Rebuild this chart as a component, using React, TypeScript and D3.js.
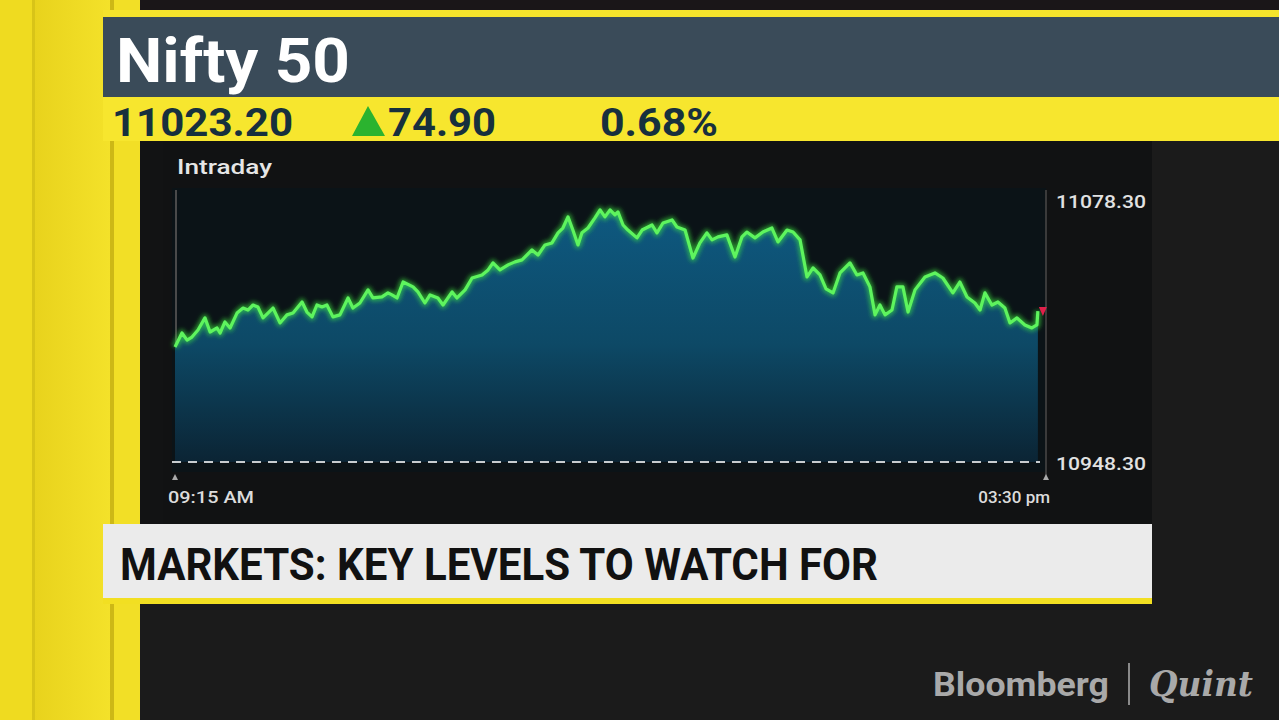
import React from "react";
import * as d3 from "d3";

// Intraday Nifty 50 (minutes after 09:15 open, index level)
const minutes = [0, 3.0, 5.2, 7.3, 9.9, 12.9, 15.1, 18.1, 19.4, 21.5, 23.7, 26.7, 29.3, 31.4, 33.6, 35.7, 37.9, 40.0, 42.2, 45.2, 48.2, 50.8, 54.7, 56.8, 59.0, 61.1, 63.3, 65.4, 68.0, 71.0, 74.5, 76.6, 79.6, 83.1, 85.2, 89.1, 91.7, 93.4, 95.6, 98.2, 102.5, 104.6, 107.6, 109.8, 113.2, 115.4, 119.3, 121.4, 124.9, 127.9, 132.2, 134.8, 136.9, 139.9, 143.4, 146.4, 149.4, 153.7, 156.3, 159.3, 162.3, 164.9, 167.0, 169.2, 171.3, 173.5, 175.2, 177.8, 180.8, 183.0, 185.1, 187.3, 189.4, 190.7, 192.9, 195.0, 198.9, 201.1, 205.4, 207.5, 210.1, 214.0, 216.1, 219.6, 223.0, 226.0, 229.0, 231.2, 233.8, 237.6, 241.1, 244.1, 246.2, 249.7, 253.1, 257.0, 259.6, 263.5, 266.1, 269.1, 272.1, 274.7, 277.7, 280.3, 283.3, 286.3, 290.6, 293.6, 296.2, 299.2, 301.4, 303.5, 305.7, 308.7, 310.8, 313.4, 315.6, 318.6, 322.9, 327.2, 330.6, 334.9, 337.9, 341.0, 344.4, 346.6, 348.7, 351.7, 354.3, 357.3, 359.5, 362.5, 365.9, 368.9, 371.1, 371.5];
const values = [11005.4, 11012.3, 11008.8, 11010.3, 11013.8, 11019.8, 11012.8, 11014.8, 11012.3, 11017.8, 11014.8, 11022.2, 11024.7, 11023.7, 11026.2, 11025.2, 11019.8, 11022.2, 11024.7, 11017.3, 11021.3, 11022.2, 11027.7, 11022.7, 11020.3, 11026.2, 11025.2, 11026.2, 11020.3, 11021.3, 11029.7, 11024.7, 11027.2, 11033.7, 11029.7, 11030.2, 11032.2, 11031.2, 11029.7, 11037.6, 11035.2, 11032.7, 11027.2, 11031.2, 11029.7, 11026.2, 11032.7, 11029.7, 11033.7, 11039.6, 11041.1, 11043.6, 11047.1, 11043.6, 11046.1, 11047.6, 11048.6, 11053.5, 11051.0, 11056.0, 11057.0, 11062.0, 11064.4, 11069.9, 11063.4, 11056.0, 11062.0, 11064.4, 11069.4, 11073.4, 11069.9, 11073.4, 11070.9, 11072.4, 11065.9, 11063.4, 11059.5, 11063.4, 11065.9, 11062.0, 11066.9, 11068.4, 11064.9, 11063.4, 11049.5, 11057.0, 11062.0, 11058.5, 11060.0, 11061.0, 11050.0, 11060.0, 11062.4, 11059.5, 11062.4, 11064.4, 11057.5, 11063.4, 11062.4, 11058.5, 11040.1, 11044.6, 11041.1, 11034.2, 11032.2, 11042.1, 11047.1, 11041.1, 11042.1, 11035.2, 11021.3, 11026.2, 11021.3, 11023.7, 11035.2, 11035.2, 11022.7, 11033.7, 11040.1, 11042.1, 11039.6, 11032.2, 11037.6, 11030.2, 11027.2, 11023.7, 11032.2, 11026.2, 11027.7, 11024.7, 11017.3, 11019.8, 11016.3, 11014.8, 11016.3, 11023.2];

const yBounds = [10948.3, 11078.3];
const yTickLabels = ["10948.30", "11078.30"];
const xBounds = [0, 375];
const xTickLabels = ["09:15 AM", "03:30 pm"];

const title = "Nifty 50";
const lastPrice = "11023.20";
const change = "74.90";
const changePct = "0.68%";
const chartLabel = "Intraday";
const banner = "MARKETS: KEY LEVELS TO WATCH FOR";

const FONT = "Roboto, 'Noto Sans', sans-serif";

export default function App() {
  const x = d3.scaleLinear().domain(xBounds).range([175, 1046]);
  const y = d3.scaleLinear().domain(yBounds).range([462, 200]);
  const pts = minutes.map((m, i) => [m, values[i]] as [number, number]);
  const line = d3.line<[number, number]>().x(d => x(d[0])).y(d => y(d[1]));
  const area = d3.area<[number, number]>().x(d => x(d[0])).y0(y(yBounds[0])).y1(d => y(d[1]));
  const lastX = x(minutes[minutes.length - 1]);
  const lastY = y(values[values.length - 1]);

  return (
    <svg width={1279} height={720} style={{ position: "absolute", left: 0, top: 0, display: "block" }} fontFamily={FONT}>
      <defs>
        <linearGradient id="fillG" gradientUnits="userSpaceOnUse" x1="0" y1="200" x2="0" y2="462">
          <stop offset="0" stopColor="#0e5a82" />
          <stop offset="0.55" stopColor="#0d4966" />
          <stop offset="1" stopColor="#0b2434" />
        </linearGradient>
        <linearGradient id="leftY" x1="0" x2="1" y1="0" y2="0">
          <stop offset="0" stopColor="#e8d21c" />
          <stop offset="1" stopColor="#f4e22a" />
        </linearGradient>
        <filter id="glow" x="-5%" y="-20%" width="110%" height="140%">
          <feGaussianBlur stdDeviation="2.2" />
        </filter>
      </defs>
      {/* background */}
      <rect x={0} y={0} width={1279} height={720} fill="#1b1b1b" />
      <rect x={140} y={0} width={1139} height={10} fill="#1a1618" />
      {/* left yellow panels */}
      <rect x={0} y={0} width={32} height={720} fill="#efdb20" />
      <rect x={32} y={0} width={80} height={720} fill="url(#leftY)" />
      <rect x={32} y={0} width={3} height={720} fill="#d8c418" />
      <rect x={110} y={0} width={4} height={720} fill="#cdb816" />
      <rect x={114} y={0} width={26} height={720} fill="#f2df26" />
      {/* header */}
      <rect x={103} y={10} width={1176} height={7} fill="#f5e42c" />
      <rect x={103} y={17} width={1176} height={80} fill="#3a4b59" />
      <rect x={103} y={97} width={1176} height={44} fill="#f7e62e" />
      <text x={116} y={82} fill="#ffffff" fontWeight={700} fontSize={62} textLength={234} lengthAdjust="spacingAndGlyphs">{title}</text>
      <text x={112} y={136} fill="#17303d" fontWeight={700} fontSize={38} textLength={181} lengthAdjust="spacingAndGlyphs">{lastPrice}</text>
      <path d="M352,136 L368,106 L385,136 Z" fill="#2bb32f" />
      <text x={388} y={136} fill="#17303d" fontWeight={700} fontSize={38} textLength={108} lengthAdjust="spacingAndGlyphs">{change}</text>
      <text x={600} y={136} fill="#17303d" fontWeight={700} fontSize={38} textLength={118} lengthAdjust="spacingAndGlyphs">{changePct}</text>
      {/* chart panel */}
      <rect x={140} y={141} width={1012} height={383} fill="#121314" />
      <rect x={163} y={141} width={989} height={383} fill="#111213" />
      <rect x={172} y={188} width={874} height={284} fill="#0b1317" />
      <text x={177} y={174} fill="#e6e6e6" fontWeight={500} fontSize={21} textLength={95} lengthAdjust="spacingAndGlyphs">{chartLabel}</text>
      <line x1={176} x2={176} y1={190} y2={462} stroke="#4a4a4a" strokeWidth={2} />
      <line x1={1046} x2={1046} y1={190} y2={476} stroke="#3a3a3a" strokeWidth={2} />
      <path d={area(pts) || ""} fill="url(#fillG)" />
      <path d={line(pts) || ""} fill="none" stroke="#3ff03f" strokeWidth={7} strokeOpacity={0.55} filter="url(#glow)" strokeLinejoin="round" />
      <path d={line(pts) || ""} fill="none" stroke="#5ef45e" strokeWidth={3.2} strokeLinejoin="round" />
      <line x1={172} x2={1040} y1={y(yBounds[0])} y2={y(yBounds[0])} stroke="#c8cccf" strokeWidth={2} strokeDasharray="9,7" />
      <path d={`M${lastX + 1},${lastY - 4} L${lastX + 9},${lastY - 4} L${lastX + 5},${lastY + 5} Z`} fill="#e0204a" />
      <path d={`M${x(xBounds[0]) - 3},${480} L${x(xBounds[0]) + 3},${480} L${x(xBounds[0])},${474} Z`} fill="#aaaaaa" />
      <path d={`M${x(xBounds[1]) - 3},${480} L${x(xBounds[1]) + 3},${480} L${x(xBounds[1])},${474} Z`} fill="#aaaaaa" />
      <text x={168} y={503} fill="#dcdcdc" fontWeight={500} fontSize={17} textLength={86} lengthAdjust="spacingAndGlyphs">{xTickLabels[0]}</text>
      <text x={1050} y={503} textAnchor="end" fill="#dcdcdc" fontWeight={500} fontSize={17}>{xTickLabels[1]}</text>
      <text x={1056} y={y(yBounds[1]) + 8} fill="#e2e2e2" fontWeight={500} fontSize={18} textLength={90} lengthAdjust="spacingAndGlyphs">{yTickLabels[1]}</text>
      <text x={1056} y={y(yBounds[0]) + 8} fill="#e2e2e2" fontWeight={500} fontSize={18} textLength={90} lengthAdjust="spacingAndGlyphs">{yTickLabels[0]}</text>
      {/* banner */}
      <rect x={103} y={524} width={1049} height={75} fill="#ebebeb" />
      <rect x={103} y={598} width={1049} height={6} fill="#f2df22" />
      <text x={120} y={580} fill="#111111" fontWeight={700} fontSize={44} textLength={758} lengthAdjust="spacingAndGlyphs">{banner}</text>
      {/* logo */}
      <text x={933} y={696} fill="#a9a9a9" fontWeight={700} fontSize={34} textLength={176} lengthAdjust="spacingAndGlyphs">Bloomberg</text>
      <line x1={1129} x2={1129} y1={663} y2={705} stroke="#8a8a8a" strokeWidth={2} />
      <text x={1149} y={696} fill="#a9a9a9" fontStyle="italic" fontWeight={700} fontFamily="'DejaVu Serif', 'Liberation Serif', serif" fontSize={36} textLength={104} lengthAdjust="spacingAndGlyphs">Quint</text>
    </svg>
  );
}
